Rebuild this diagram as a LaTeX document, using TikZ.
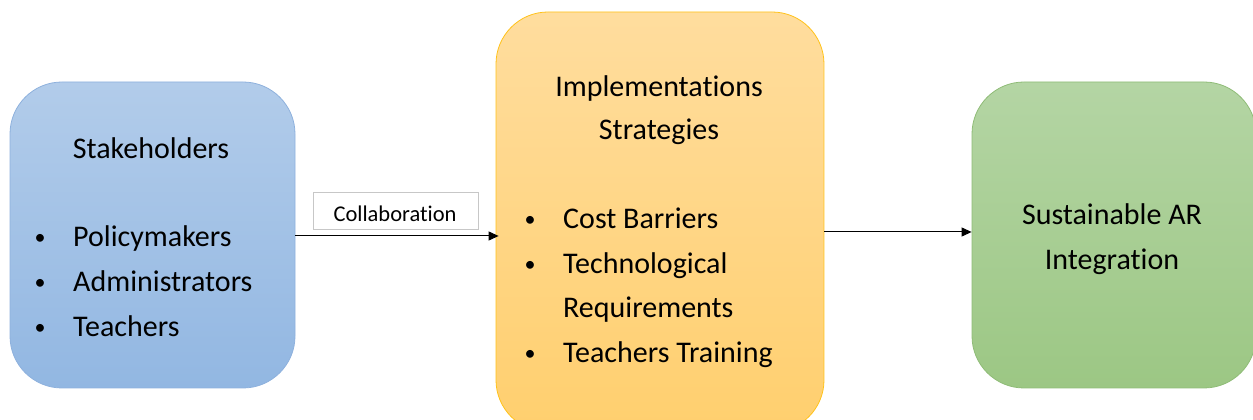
\documentclass[tikz,border=0pt]{standalone}
\usepackage{fontspec}
\setmainfont{Carlito}[Ligatures=NoCommon]
\usetikzlibrary{arrows.meta}
\definecolor{bluetop}{HTML}{B2CCEA}
\definecolor{bluebot}{HTML}{92B7E2}
\definecolor{blueline}{HTML}{8EB1DD}
\definecolor{orgtop}{HTML}{FFDD9E}
\definecolor{orgbot}{HTML}{FFCF6E}
\definecolor{orgline}{HTML}{FFC21A}
\definecolor{grntop}{HTML}{B4D5A4}
\definecolor{grnbot}{HTML}{9CC784}
\definecolor{grnline}{HTML}{8FBC77}
\tikzset{
  box/.style={rounded corners=52pt, line width=0.8pt, inner sep=0pt},
  txt/.style={inner sep=0pt, font=\fontsize{30}{36}\selectfont, text=black},
  bul/.style={inner sep=0pt, font=\fontsize{22}{26}\selectfont, text=black},
  conn/.style={line width=1pt, -{Triangle[length=10pt,width=9pt]}},
  lbl/.style={draw=black!22, line width=1pt, fill=white, minimum width=165pt, minimum height=37pt, inner sep=0pt},
}
\begin{document}
\begin{tikzpicture}[x=1pt,y=1pt]
\useasboundingbox (0,0) rectangle (1253,420);
% boxes
\node[box, draw=blueline, top color=bluetop, bottom color=bluebot, minimum width=285pt, minimum height=306pt] (blue) at (152.5,185) {};
\node[box, draw=orgline, top color=orgtop, bottom color=orgbot, minimum width=328pt, minimum height=420pt] (orange) at (660,198) {};
\node[box, draw=grnline, top color=grntop, bottom color=grnbot, minimum width=284pt, minimum height=306pt] (green) at (1114,185) {};
% connectors
\draw[conn, shorten >=-3pt] (blue.east |- 0,184) -- (orange.west |- 0,184);
\draw[conn] (orange.east |- 0,188) -- (green.west |- 0,188);
\node[lbl] (collab) at (395.5,208.5) {};
\node[txt, anchor=base, font=\fontsize{22.5}{27}\selectfont] (collabtxt) at (395,198) {Collaboration};
% blue text
\node[txt, anchor=base] (st) at (151,261) {Stakeholders};
\node[bul, anchor=base] (b1) at (40,175) {•};
\node[txt, anchor=base west] (t1) at (73,173) {Policymakers};
\node[bul, anchor=base] (b2) at (40,130) {•};
\node[txt, anchor=base west] (t2) at (73,128) {Administrators};
\node[bul, anchor=base] (b3) at (40,85) {•};
\node[txt, anchor=base west] (t3) at (73,83) {Teachers};
% orange text
\node[txt, anchor=base] (im1) at (659,323) {Implementations};
\node[txt, anchor=base] (im2) at (659,280) {Strategies};
\node[bul, anchor=base] (c1) at (530,193) {•};
\node[txt, anchor=base west] (ct1) at (563,191) {Cost Barriers};
\node[bul, anchor=base] (c2) at (530,148) {•};
\node[txt, anchor=base west] (ct2) at (563,146) {Technological};
\node[txt, anchor=base west] (ct2b) at (563,102) {Requirements};
\node[bul, anchor=base] (c3) at (530,59) {•};
\node[txt, anchor=base west] (ct3) at (563,57) {Teachers Training};
% green text
\node[txt, anchor=base] (g1) at (1112,195) {Sustainable AR};
\node[txt, anchor=base] (g2) at (1112,150) {Integration};
\end{tikzpicture}
\end{document}
